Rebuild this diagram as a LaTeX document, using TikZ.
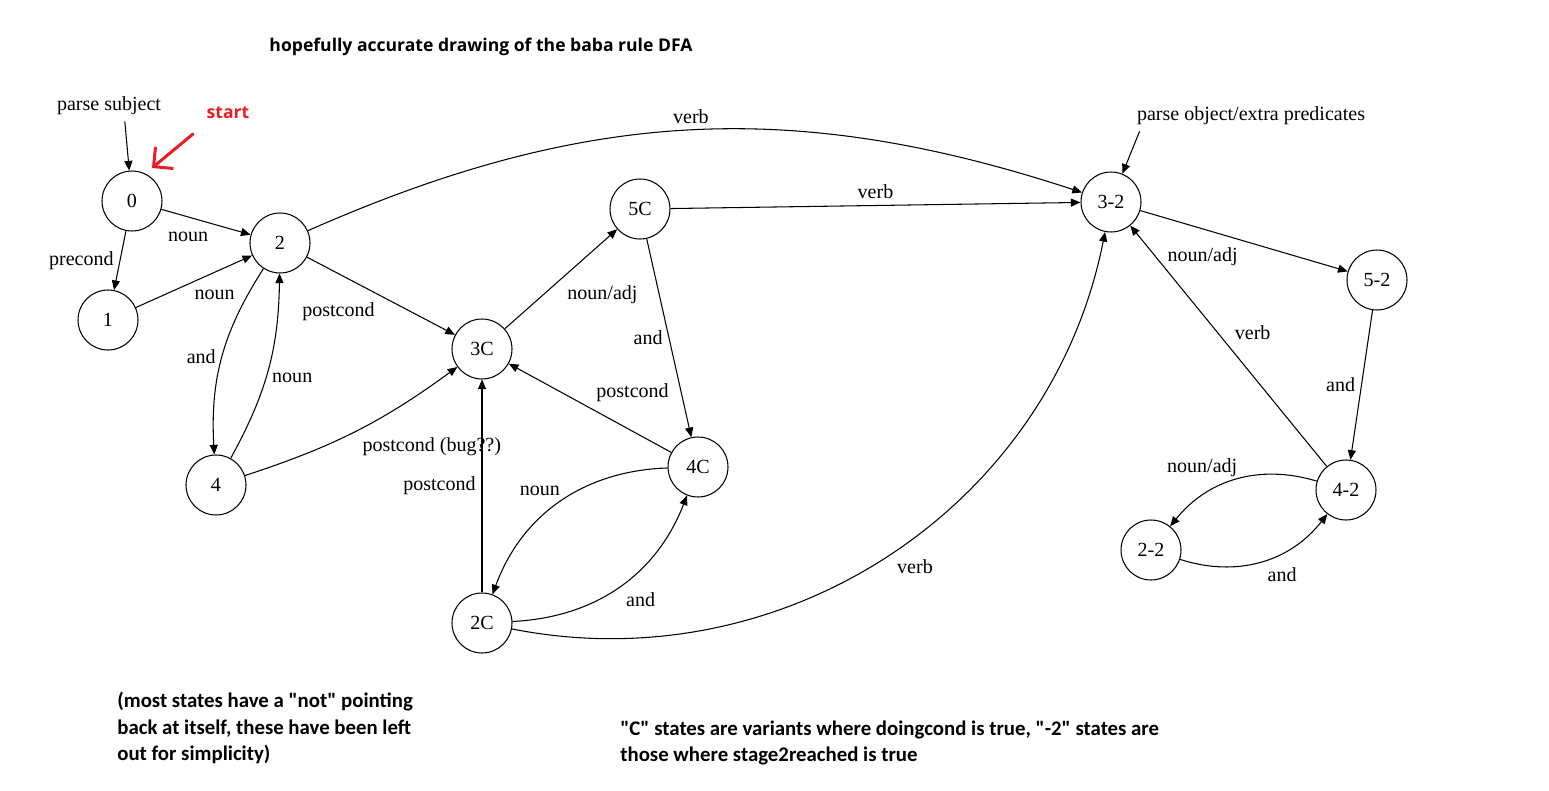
\documentclass[tikz,border=0pt]{standalone}
\usepackage{fontspec}
\setmainfont{Liberation Serif}
\newfontfamily\headfont{Open Sans}
\newfontfamily\notefont{Carlito}
\usetikzlibrary{arrows.meta,positioning}
\definecolor{startred}{RGB}{237,28,36}
\tikzset{dfastate/.style={circle, draw, line width=0.6pt, minimum size=1.2cm, inner sep=0pt},
        transition/.style={draw, line width=0.6pt, -{Triangle[length=5.5pt,width=4.6pt]}},
        heading/.style={font=\headfont\bfseries\fontsize{10}{12}\selectfont},
        remark/.style={font=\notefont\bfseries\fontsize{11.85}{15.2}\selectfont, align=left, inner sep=0pt, anchor=west},
        }

\begin{document}
\begin{tikzpicture}[x=0.02cm, y=-0.02cm, font=\fontsize{11.4}{13.5}\selectfont]
    \useasboundingbox (0,0) rectangle (1549,791);

    \node[heading] (title) at (481,47) {hopefully accurate drawing of the baba rule DFA};

    % states
    \node[dfastate] (S0) at (132,201) {0};
    \node[dfastate] (S1) at (108,320) {1};
    \node[dfastate] (S2) at (280,243) {2};
    \node[dfastate] (S4) at (216,485) {4};
    \node[dfastate] (S3C) at (482,349) {3C};
    \node[dfastate] (S5C) at (640,209) {5C};
    \node[dfastate] (S4C) at (698,467) {4C};
    \node[dfastate] (S2C) at (482,623) {2C};
    \node[dfastate] (S32) at (1111,202) {3-2};
    \node[dfastate] (S52) at (1377,280) {5-2};
    \node[dfastate] (S42) at (1346,490) {4-2};
    \node[dfastate] (S22) at (1151,550) {2-2};

    % entry points
    \node (parsesubj) at (109,106) {parse subject};
    \draw[transition] ([xshift=9pt]parsesubj.south) -- (S0);
    \node (parseobj) at (1251,116) {parse object/extra predicates};
    \draw[transition] ([xshift=5pt]parseobj.south west) -- (S32);

    \node[heading, text=startred] (starttext) at (228,113) {start};
    \coordinate (starttail) at (193,134);
    \coordinate (starttip) at (152,168);
    \draw[startred, line width=1.7pt, line cap=round, -{Straight Barb[length=8pt,width=16pt]}] (starttail) -- (starttip);

    % stage 1
    \draw[transition] (S0) -- node[pos=0.3, below=5pt] {noun} (S2);
    \draw[transition] (S0) -- node[midway, left] {precond} (S1);
    \draw[transition] (S1) -- node[pos=0.45, below right] {noun} (S2);
    \draw[transition] (S2) to[bend right=18] node[midway, left] {and} (S4);
    \draw[transition] (S4) to[bend right=14] node[pos=0.45, right] {noun} (S2);
    \draw[transition] (S2) -- node[midway, below left] {postcond} (S3C);
    \draw[transition] (S2) to[bend left=21] node[midway, above] {verb} (S32);
    \draw[transition] (S4) to[bend right=9] node[pos=0.5, below right] {postcond (bug??)} (S3C);

    % condition states
    \draw[transition] (S3C) -- node[midway, below right] {noun/adj} (S5C);
    \draw[transition] (S5C) -- node[midway, above] {verb} (S32);
    \draw[transition] (S5C) -- node[midway, left] {and} (S4C);
    \draw[transition] (S4C) -- node[midway, above right] {postcond} (S3C);
    \draw[transition] (S4C) to[bend right=34] node[pos=0.5, above left, xshift=4pt] {noun} (S2C);
    \draw[transition] (S2C) to[bend right=33] node[midway, below right] {and} (S4C);
    \draw[transition] (S2C) -- node[midway, left] {postcond} (S3C);
    \draw[transition] (S2C) to[bend right=45] node[midway, below right] {verb} (S32);

    % stage 2
    \draw[transition] (S32) -- node[midway, below left] {noun/adj} (S52);
    \draw[transition] (S52) -- node[midway, left] {and} (S42);
    \draw[transition] (S42) -- node[midway, above right] {verb} (S32);
    \draw[transition] (S42) to[bend right=34] node[pos=0.45, above left, yshift=-3pt] {noun/adj} (S22);
    \draw[transition] (S22) to[bend right=35] node[midway, below right] {and} (S42);

    \node[remark] (noteleft) at (117,728) {(most states have a "not" pointing\\back at itself, these have been left\\out for simplicity)};
    \node[remark] (noteright) at (620,743) {"C" states are variants where doingcond is true, "-2" states are\\those where stage2reached is true};

\end{tikzpicture}
\end{document}
